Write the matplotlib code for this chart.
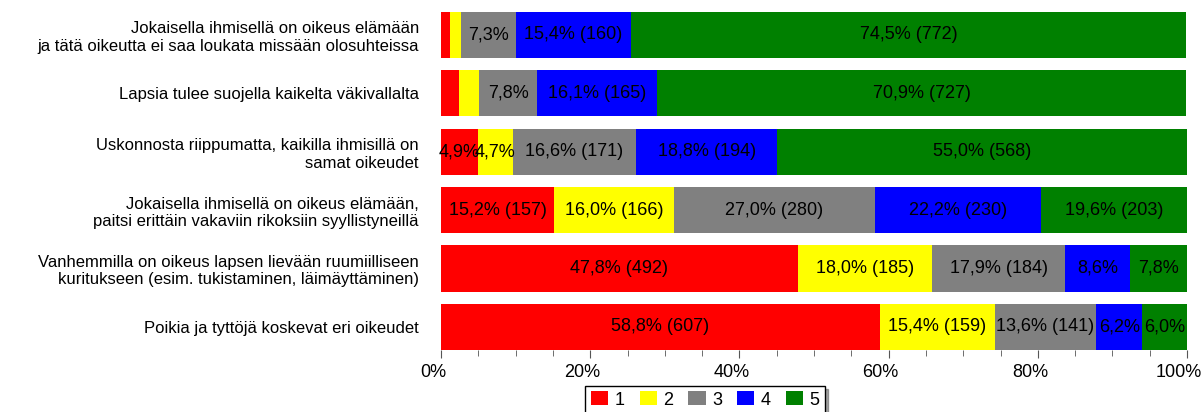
import numpy as np
import matplotlib
matplotlib.use('Agg')
import matplotlib.pyplot as plt
import matplotlib.transforms as mtransforms
from matplotlib.ticker import MultipleLocator

plt.rcParams['font.family'] = ['Liberation Sans', 'DejaVu Sans']

# statements, top to bottom
statements = [
    "Jokaisella ihmisellä on oikeus elämään\nja tätä oikeutta ei saa loukata missään olosuhteissa",
    "Lapsia tulee suojella kaikelta väkivallalta",
    "Uskonnosta riippumatta, kaikilla ihmisillä on\nsamat oikeudet",
    "Jokaisella ihmisellä on oikeus elämään,\npaitsi erittäin vakaviin rikoksiin syyllistyneillä",
    "Vanhemmilla on oikeus lapsen lievään ruumiilliseen\nkuritukseen (esim. tukistaminen, läimäyttäminen)",
    "Poikia ja tyttöjä koskevat eri oikeudet",
]
answers = ["1", "2", "3", "4", "5"]
colors = ["#ff0000", "#ffff00", "#808080", "#0000ff", "#008000"]

# percentage per answer (columns 1..5) for each statement
pct_1 = [1.2, 2.4, 4.9, 15.2, 47.8, 58.8]
pct_2 = [1.5, 2.7, 4.7, 16.0, 18.0, 15.4]
pct_3 = [7.3, 7.8, 16.6, 27.0, 17.9, 13.6]
pct_4 = [15.4, 16.1, 18.8, 22.2, 8.6, 6.2]
pct_5 = [74.5, 70.9, 55.0, 19.6, 7.8, 6.0]

# respondent counts
n_1 = [12, 25, 51, 157, 492, 607]
n_2 = [16, 28, 49, 166, 185, 159]
n_3 = [76, 80, 171, 280, 184, 141]
n_4 = [160, 165, 194, 230, 88, 64]
n_5 = [772, 727, 568, 203, 80, 62]

pcts = [pct_1, pct_2, pct_3, pct_4, pct_5]
counts = [n_1, n_2, n_3, n_4, n_5]


def fmt(v):
    return f"{v:.1f}".replace(".", ",") + "%"


fig = plt.figure(figsize=(12.04, 4.12), dpi=100)
ax = fig.add_axes([0.3663, 0.1505, 0.6196, 0.836])

y = np.arange(len(statements))
left = np.zeros(len(statements))
for i in range(len(answers)):
    vals = np.array(pcts[i])
    ax.barh(y, vals, left=left, height=0.79, color=colors[i], label=answers[i])
    for j, v in enumerate(vals):
        if v < 4:
            continue
        txt = fmt(v)
        if v >= 10:
            txt += f" ({counts[i][j]})"
        ax.text(left[j] + v / 2, y[j], txt, ha='center', va='center',
                fontsize=13, color='black')
    left += vals

ax.set_xlim(0, 100)
ax.set_ylim(len(statements) - 1 + 0.395, -0.5)
ax.set_yticks(y)
ax.set_yticklabels(statements, fontsize=12, multialignment='right')
ax.tick_params(axis='y', length=0, pad=16)

xt = np.arange(0, 101, 20)
ax.set_xticks(xt, [f"{v}%" for v in xt])
ax.xaxis.set_minor_locator(MultipleLocator(5))
ax.tick_params(axis='x', which='major', length=6, color='#555555', labelsize=13, pad=4)
ax.tick_params(axis='x', which='minor', length=4, color='#555555')
shift = mtransforms.ScaledTranslation(-8 / 100, 0, fig.dpi_scale_trans)
for lab in ax.get_xticklabels():
    lab.set_transform(lab.get_transform() + shift)

for s in ax.spines.values():
    s.set_visible(False)

fig.legend(loc='upper center', bbox_to_anchor=(0.5857, 0.063), ncol=5,
           fontsize=13, frameon=True, fancybox=False, shadow=True,
           edgecolor='black', handlelength=0.95, handleheight=0.8,
           columnspacing=0.85, handletextpad=0.35, borderpad=0.3,
           borderaxespad=0)

fig.savefig("out.png", dpi=100)
